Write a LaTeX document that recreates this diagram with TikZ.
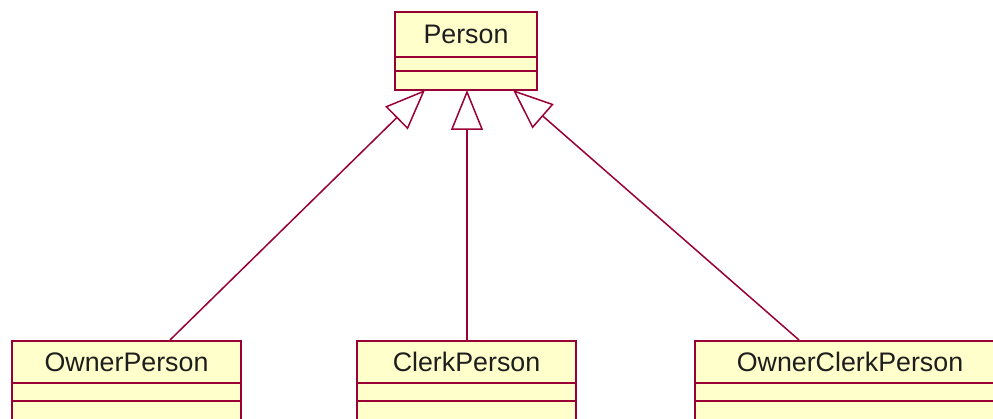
\documentclass[tikz,border=0pt]{standalone}
\usepackage{fontspec}
\setmainfont{Liberation Sans}
\usetikzlibrary{arrows.meta,calc}
\definecolor{umlline}{RGB}{153,0,51}
\definecolor{umlfill}{RGB}{255,255,204}
\definecolor{umltext}{RGB}{30,30,30}
\begin{document}
\begin{tikzpicture}[x=1pt,y=-1pt,
  classname/.style={draw=umlline,fill=umlfill,line width=2pt,inner sep=0pt,
    text=umltext,font=\fontsize{26.8}{30}\selectfont},
  compartment/.style={draw=umlline,fill=umlfill,line width=2pt},
  generalization/.style={draw=umlline,line width=1.5pt,
    -{Triangle[open,length=40pt,width=32pt,line width=1.5pt]}}]
\clip (0,0) rectangle (993,419);
\fill[white] (0,0) rectangle (993,419);

% Person: name compartment, then attributes and operations
\draw[compartment] (395,57) rectangle (537,71);
\draw[compartment] (395,71) rectangle (537,90);
\node[classname,minimum width=142pt,minimum height=45pt] (person) at (466,34.5) {Person};
\coordinate (pbot) at (467,90);

% subclasses
\draw[compartment] (12,383) rectangle (241,401);
\draw[compartment] (12,401) rectangle (241,440);
\node[classname,minimum width=229pt,minimum height=42pt] (owner) at (126.5,362) {OwnerPerson};

\draw[compartment] (357,383) rectangle (576,401);
\draw[compartment] (357,401) rectangle (576,440);
\node[classname,minimum width=219pt,minimum height=42pt] (clerk) at (466.5,362) {ClerkPerson};

\draw[compartment] (695,383) rectangle (1005,401);
\draw[compartment] (695,401) rectangle (1005,440);
\node[classname,minimum width=310pt,minimum height=42pt] (ownerclerk) at (850,362) {OwnerClerkPerson};

% generalization arrows
\draw[generalization] ($(owner.north west)+(159,0)$) -- ($(pbot)+(-42,0)$);
\draw[generalization] (clerk.north -| pbot) -- (pbot);
\draw[generalization] ($(ownerclerk.north west)+(105,0)$) -- ($(pbot)+(46,0)$);
\end{tikzpicture}
\end{document}
